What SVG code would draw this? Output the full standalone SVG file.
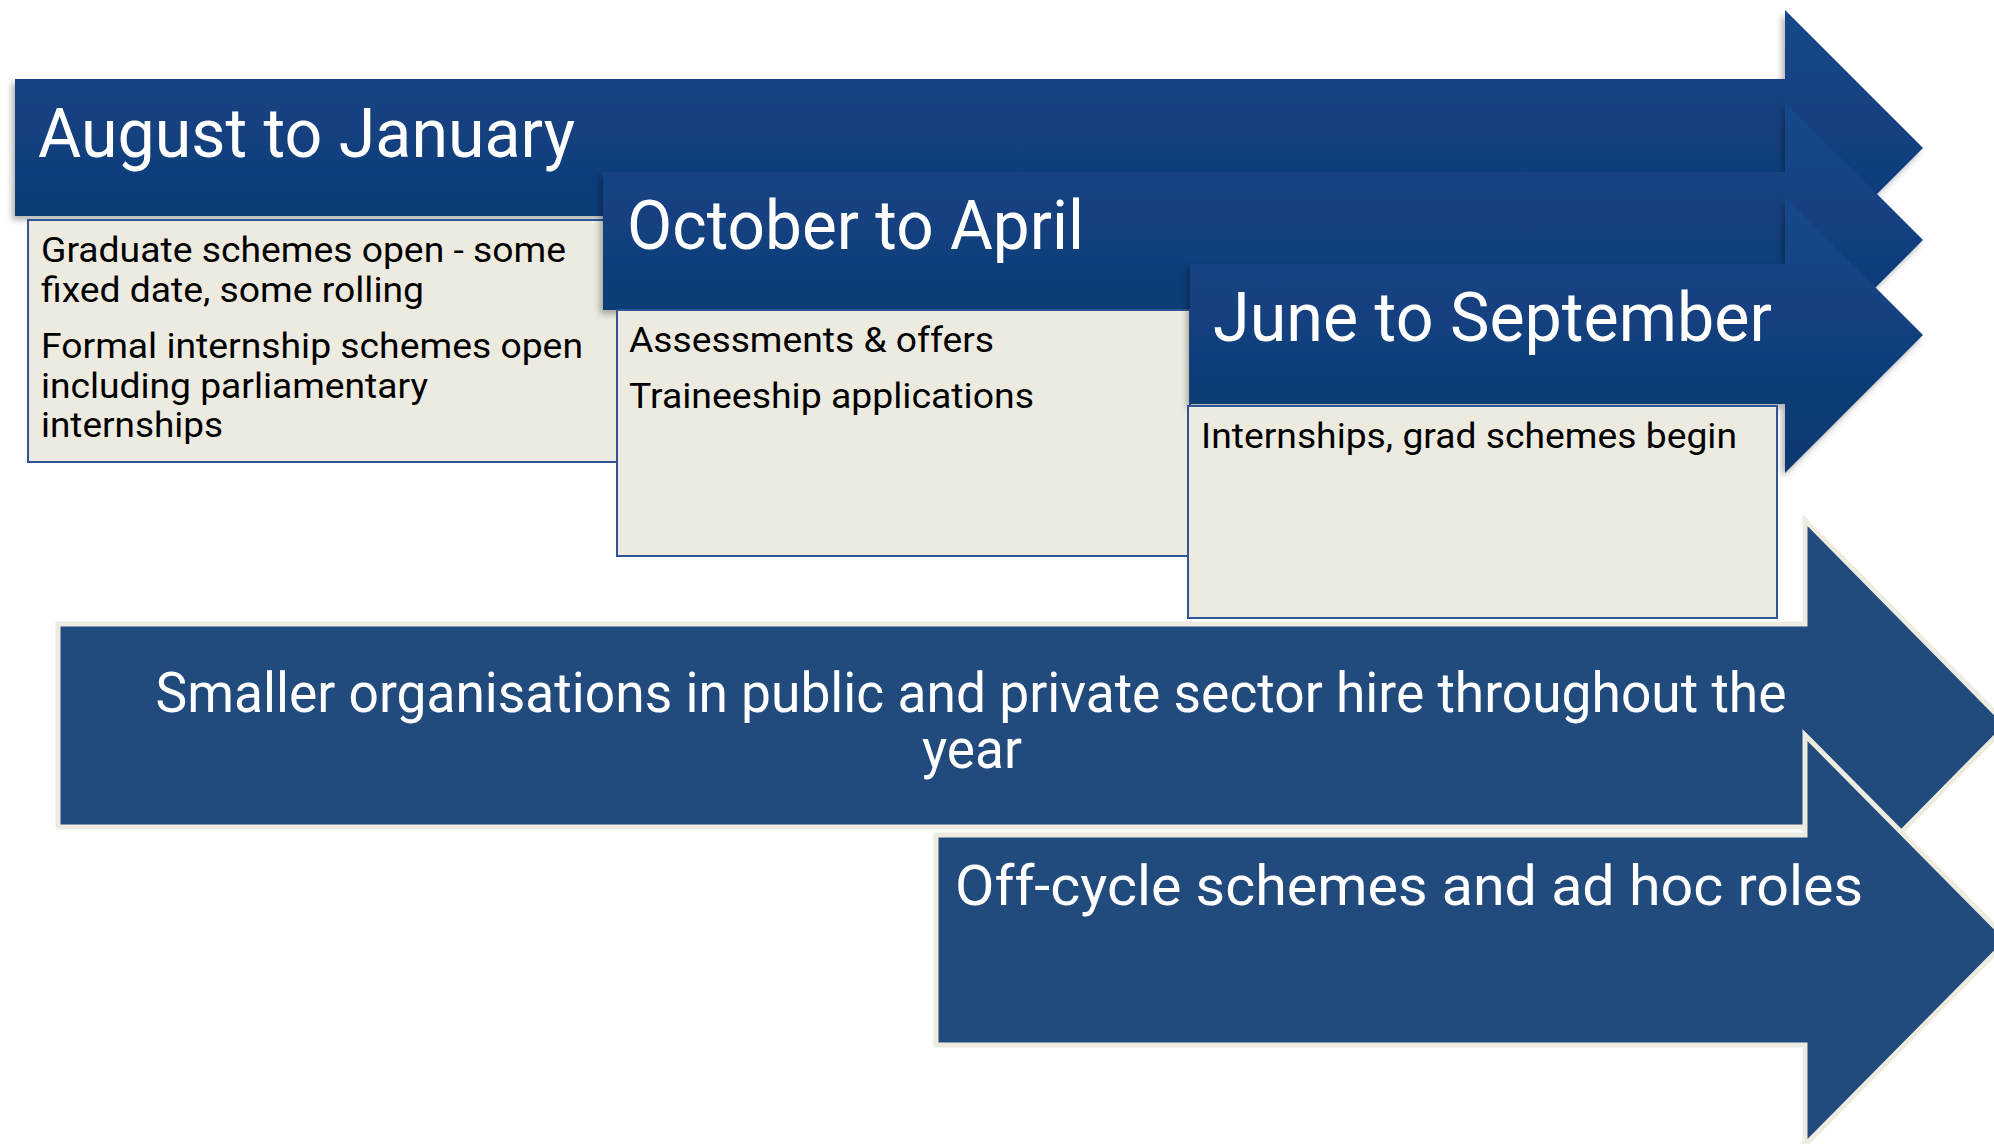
<svg xmlns="http://www.w3.org/2000/svg" width="1994" height="1144" viewBox="0 0 1994 1144">
  <defs>
    <linearGradient id="gTop" x1="0" y1="0" x2="0" y2="1">
      <stop offset="0" stop-color="#15478B"/>
      <stop offset="1" stop-color="#0E386F"/>
    </linearGradient>
    <filter id="sh" x="-5%" y="-5%" width="110%" height="115%">
      <feDropShadow dx="-3" dy="4" stdDeviation="3" flood-color="#000" flood-opacity="0.3"/>
    </filter>
    <style>
      .top { fill: url(#gTop); filter: url(#sh); }
      .box { fill: #EDEBE0; stroke: #2F5597; stroke-width: 2; }
      .low { fill: #214A7D; stroke: #EEECE1; stroke-width: 5; }
      .title { font-family: Roboto, "Liberation Sans", sans-serif; font-size: 69px; fill: #FFFFFF; }
      .body { font-family: Roboto, "Liberation Sans", sans-serif; font-size: 35px; fill: #000000; }
      .big { font-family: Roboto, "Liberation Sans", sans-serif; font-size: 55px; fill: #FFFFFF; }
    </style>
  </defs>
  <rect width="1994" height="1144" fill="#FFFFFF"/>

  <g id="node-aug-jan">
    <polygon class="top" points="15,79 1785,79 1785,10 1923,148 1785,286 1785,216 15,216"/>
    <text class="title" x="38" y="157" textLength="537" lengthAdjust="spacingAndGlyphs">August to January</text>
  </g>
  <g id="box-aug-jan">
    <rect class="box" x="28" y="220" width="589" height="242"/>
    <text class="body" x="41" y="262" textLength="525" lengthAdjust="spacingAndGlyphs">Graduate schemes open - some</text>
    <text class="body" x="41" y="302" textLength="383" lengthAdjust="spacingAndGlyphs">fixed date, some rolling</text>
    <text class="body" x="41" y="358" textLength="542" lengthAdjust="spacingAndGlyphs">Formal internship schemes open</text>
    <text class="body" x="41" y="398" textLength="387" lengthAdjust="spacingAndGlyphs">including parliamentary</text>
    <text class="body" x="41" y="437" textLength="182" lengthAdjust="spacingAndGlyphs">internships</text>
  </g>

  <g id="node-oct-apr">
    <polygon class="top" points="603,172 1785,172 1785,102 1923,240 1785,378 1785,310 603,310"/>
    <text class="title" x="627" y="249" textLength="457" lengthAdjust="spacingAndGlyphs">October to April</text>
  </g>
  <g id="box-oct-apr">
    <rect class="box" x="617" y="310" width="573" height="246"/>
    <text class="body" x="629" y="352" textLength="365" lengthAdjust="spacingAndGlyphs">Assessments &amp; offers</text>
    <text class="body" x="629" y="408" textLength="405" lengthAdjust="spacingAndGlyphs">Traineeship applications</text>
  </g>

  <g id="node-jun-sep">
    <polygon class="top" points="1190,264 1785,264 1785,197 1923,335 1785,473 1785,404 1190,404"/>
    <text class="title" x="1213" y="341" textLength="559" lengthAdjust="spacingAndGlyphs">June to September</text>
  </g>
  <g id="box-jun-sep">
    <rect class="box" x="1188" y="406" width="589" height="212"/>
    <text class="body" x="1201" y="448" textLength="536" lengthAdjust="spacingAndGlyphs">Internships, grad schemes begin</text>
  </g>

  <g id="node-smaller-orgs">
    <polygon class="low" points="58,624 1805,624 1805,520 2007,725 1805,930 1805,827 58,827"/>
    <text class="big" x="971" y="712" text-anchor="middle" textLength="1631" lengthAdjust="spacingAndGlyphs">Smaller organisations in public and private sector hire throughout the</text>
    <text class="big" x="972" y="768" text-anchor="middle" textLength="100" lengthAdjust="spacingAndGlyphs">year</text>
  </g>

  <g id="node-off-cycle">
    <polygon class="low" points="936,835 1805,835 1805,735 2008,940 1805,1145 1805,1045 936,1045"/>
    <text class="big" x="955" y="905" textLength="908" lengthAdjust="spacingAndGlyphs">Off-cycle schemes and ad hoc roles</text>
  </g>

  <g id="connectors"/>
</svg>
